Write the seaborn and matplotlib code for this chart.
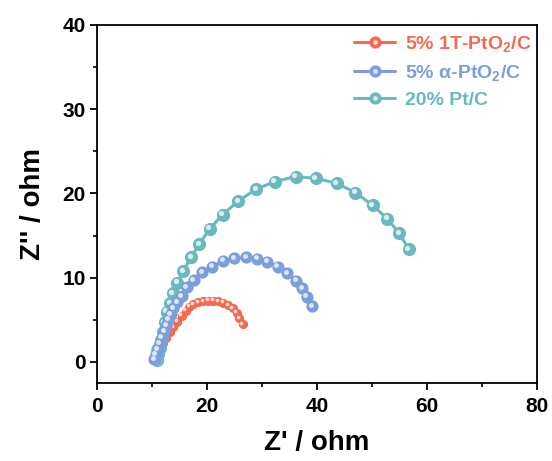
import matplotlib
matplotlib.use("Agg")
import matplotlib.pyplot as plt
from matplotlib.transforms import offset_copy
from matplotlib.ticker import MultipleLocator
from matplotlib.lines import Line2D
from matplotlib.legend_handler import HandlerTuple
import seaborn as sns
import pandas as pd

sns.set_theme(style="ticks")
plt.rcParams["font.family"] = ["Liberation Sans", "DejaVu Sans"]
plt.rcParams["font.weight"] = "bold"
plt.rcParams["mathtext.default"] = "regular"
plt.rcParams["text.color"] = "black"
plt.rcParams["axes.labelcolor"] = "black"

# Nyquist data: Z' (real) and Z'' (-imaginary), ohm
red_x = [10.6, 11.0, 11.5, 12.0, 12.6, 13.2, 13.9, 14.6, 15.4, 16.1, 16.8, 17.5,
         18.4, 19.3, 20.2, 21.15, 22.05, 23.0, 23.9, 24.7, 25.4, 25.9, 26.5]
red_y = [0.4, 1.0, 1.6, 2.2, 2.9, 3.5, 4.1, 4.8, 5.5, 6.1, 6.56, 6.85,
         7.09, 7.24, 7.28, 7.28, 7.24, 7.04, 6.77, 6.37, 5.85, 5.2, 4.5]

blue_x = [10.4, 10.7, 11.0, 11.4, 11.8, 12.2, 12.6, 13.0, 13.4, 13.9, 14.6, 15.4,
          16.3, 17.6, 19.1, 20.96, 22.96, 25.0, 27.1, 29.1, 31.0, 32.85, 34.6,
          36.2, 37.3, 38.1, 39.15]
blue_y = [0.3, 0.9, 1.5, 2.2, 2.9, 3.6, 4.3, 5.0, 5.7, 6.4, 7.1, 7.83,
          8.87, 9.7, 10.65, 11.3, 12.0, 12.3, 12.4, 12.26, 11.9, 11.3, 10.5,
          9.65, 8.75, 7.75, 6.65]

teal_x = [10.9, 11.1, 11.4, 11.7, 12.0, 12.3, 12.7, 13.3, 13.8, 14.6, 15.7, 17.1,
          18.6, 20.5, 22.85, 25.7, 28.9, 32.3, 36.1, 39.8, 43.6, 47.0, 50.1,
          52.8, 54.9, 56.7]
teal_y = [0.2, 0.9, 1.7, 2.6, 3.6, 4.7, 5.97, 6.97, 8.15, 9.4, 10.8, 12.4,
          14.0, 15.8, 17.5, 19.1, 20.5, 21.4, 22.0, 21.8, 21.2, 20.1, 18.6,
          17.0, 15.3, 13.4]

labels = ["5% 1T-PtO$_2$/C", "5% \u03b1-PtO$_2$/C", "20% Pt/C"]
colors = ["#F46A50", "#7C9FDC", "#6AB9BE"]
series = [(red_x, red_y), (blue_x, blue_y), (teal_x, teal_y)]
msizes = [6.6, 8.8, 9.5]
zorders = [2, 4, 3]

fig = plt.figure(figsize=(5.52, 4.61), dpi=100)
ax = fig.add_axes([0.1757, 0.1692, 0.7971, 0.7766])

glint = offset_copy(ax.transData, fig=fig, x=-1.0, y=1.0, units="points")

for (xs, ys), col, ms, zo in zip(series, colors, msizes, zorders):
    df = pd.DataFrame({"x": xs, "y": ys})
    sns.lineplot(data=df, x="x", y="y", sort=False, ax=ax, color=col,
                 lw=2.2, marker="o", markersize=ms, markeredgewidth=0,
                 legend=False, zorder=zo)
    # specular highlight on each bead
    ax.plot(xs, ys, ls="none", marker="o", markersize=ms * 0.4,
            color="white", alpha=0.75, markeredgewidth=0,
            transform=glint, zorder=zo + 0.1)

ax.set_xlim(0, 80)
ax.set_ylim(-2.5, 40)
ax.xaxis.set_major_locator(MultipleLocator(20))
ax.xaxis.set_minor_locator(MultipleLocator(10))
ax.yaxis.set_major_locator(MultipleLocator(10))
ax.yaxis.set_minor_locator(MultipleLocator(5))

ax.tick_params(which="major", direction="out", length=5, width=1.3,
               labelsize=15, color="black", labelcolor="black")
ax.tick_params(axis="x", which="major", pad=5)
ax.tick_params(axis="y", which="major", pad=3)
ax.tick_params(which="minor", direction="out", length=3, width=1.2, color="black")
ax.tick_params(top=False, right=False, which="both")
for sp in ax.spines.values():
    sp.set_visible(True)
    sp.set_linewidth(1.3)
    sp.set_color("black")

ax.set_xlabel("Z' / ohm", fontsize=20, fontweight="bold", labelpad=10,
              color="black")
ax.set_ylabel("Z'' / ohm", fontsize=20, fontweight="bold", labelpad=12,
              color="black")

handles = []
for col in colors:
    bead = Line2D([], [], color=col, lw=2.2, marker="o", markersize=8.8,
                  markeredgewidth=0)
    shine = Line2D([], [], ls="none", marker="o", markersize=3.4,
                   color="white", alpha=0.75, markeredgewidth=0)
    handles.append((bead, shine))

leg = ax.legend(handles, labels, handler_map={tuple: HandlerTuple(ndivide=1)},
                loc="upper right", bbox_to_anchor=(1.012, 1.005), frameon=False,
                fontsize=14, handlelength=2.1, handletextpad=0.5,
                labelspacing=0.45, borderaxespad=0.15)
for txt, col in zip(leg.get_texts(), colors):
    txt.set_color(col)
    txt.set_fontweight("bold")

fig.savefig("out.png", dpi=100)
